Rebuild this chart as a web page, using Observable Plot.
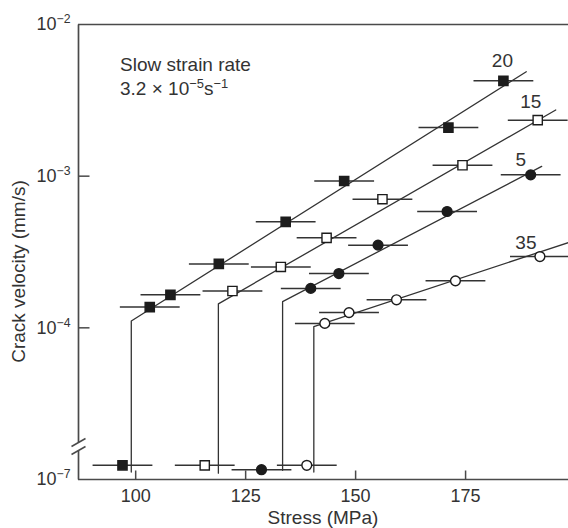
<!DOCTYPE html>
<html><head><meta charset="utf-8">
<script src="https://cdn.jsdelivr.net/npm/d3@7"></script>
<script src="https://cdn.jsdelivr.net/npm/@observablehq/plot@0.6"></script>
<style>
html,body{margin:0;padding:0;background:#fff;}
</style></head><body><div id="chart"></div>
<script>
// ---------------- data ----------------
const seriesNames = ["20", "15", "5", "35"];
// measured points: stress (MPa), crack velocity (mm/s); first point of each is on the 10^-7 level
const stress20 = [97.0, 103.2, 107.9, 118.9, 134.1, 147.4, 171.1, 183.6];
const vel20    = [1.24e-7, 1.37e-4, 1.65e-4, 2.64e-4, 5.0e-4, 9.3e-4, 2.09e-3, 4.25e-3];
const stress15 = [115.7, 122.0, 133.0, 143.4, 156.1, 174.3, 191.4];
const vel15    = [1.24e-7, 1.75e-4, 2.52e-4, 3.92e-4, 7.05e-4, 1.18e-3, 2.34e-3];
const stress5  = [128.6, 139.8, 146.2, 155.1, 170.8, 189.8];
const vel5     = [1.16e-7, 1.82e-4, 2.28e-4, 3.51e-4, 5.85e-4, 1.02e-3];
const stress35 = [138.9, 143.0, 148.5, 159.3, 172.7, 191.9];
const vel35    = [1.24e-7, 1.07e-4, 1.26e-4, 1.53e-4, 2.04e-4, 2.95e-4];
const stressError = 6.8; // ± MPa
// fitted curves: vertical rise at threshold stress, then straight fit
const fitStress20 = [99.0, 99.0, 188.8];   const fitVel20 = [1.12e-7, 1.11e-4, 4.88e-3];
const fitStress15 = [118.8, 118.8, 195.5]; const fitVel15 = [1.10e-7, 1.44e-4, 2.73e-3];
const fitStress5  = [133.4, 133.4, 192.3]; const fitVel5  = [1.15e-7, 1.49e-4, 1.16e-3];
const fitStress35 = [140.5, 140.5, 198.4]; const fitVel35 = [1.12e-7, 1.02e-4, 3.65e-4];
const xTicks = [100, 125, 150, 175];
const xTickLabels = ["100", "125", "150", "175"];
const yTickValues = [1e-2, 1e-3, 1e-4, 1e-7];
const yTickLabels = ["10^-2", "10^-3", "10^-4", "10^-7"];
const xTitle = "Stress (MPa)";
const yTitle = "Crack velocity (mm/s)";
const noteLine1 = "Slow strain rate";

// ---------------- layout / style ----------------
const W = 568, H = 528;
const mL = 78, mR = 0, mT = 24, mB = 49;
const xDomain = [87, 198.4];
const yDomain = [1e-5, 1e-2];          // 10^-7 decade drawn just below the break
const pxPerMPa = (W - mL - mR) / (xDomain[1] - xDomain[0]);
const pxPerDecade = (H - mT - mB) / 3;
const ink = "#333";
const axisInk = "#4a4a4a";
const dark = "#1c1c1c";
const font = "'Liberation Sans', Arial, Helvetica, sans-serif";
const fs = 18, fsTitle = 19;

// broken axis: values below 10^-6 are shifted up two decades
const yPos = v => v < 1e-6 ? v * 100 : v;

const styleOf = {
  "20": {symbol: "square", fill: dark, r: 5.2, labelDx: -1, labelDy: -20},
  "15": {symbol: "square", fill: "white", r: 5.2, labelDx: -7, labelDy: -18},
  "5":  {symbol: "circle", fill: dark, r: 4.9, labelDx: -10, labelDy: -15},
  "35": {symbol: "circle", fill: "white", r: 4.9, labelDx: -14, labelDy: -14}
};
const tables = {
  "20": [stress20, vel20, fitStress20, fitVel20],
  "15": [stress15, vel15, fitStress15, fitVel15],
  "5":  [stress5, vel5, fitStress5, fitVel5],
  "35": [stress35, vel35, fitStress35, fitVel35]
};

const marks = [];
// frame: top and bottom lines, left axis with break
const xMin = xDomain[0];
const dec = px => Math.pow(10, px / pxPerDecade);
const breakHi = yDomain[0] * dec(37), breakLo = yDomain[0] * dec(29);
marks.push(Plot.ruleY([yDomain[1], yDomain[0]], {stroke: axisInk, strokeWidth: 1.7}));
marks.push(Plot.link([{a: breakHi, b: yDomain[1]}, {a: yDomain[0], b: breakLo}],
  {x1: () => xMin, x2: () => xMin, y1: "a", y2: "b", stroke: axisInk, strokeWidth: 1.7}));
const slashDx = 7 / pxPerMPa;
marks.push(Plot.link([breakHi, breakLo],
  {x1: () => xMin - slashDx, x2: () => xMin + slashDx, y1: d => d / dec(4), y2: d => d * dec(4),
   stroke: axisInk, strokeWidth: 1.5}));
// inward ticks
marks.push(Plot.link(yTickValues.filter(v => v > 1e-5 && v < 1e-2),
  {x1: () => xMin, x2: () => xMin + 11 / pxPerMPa, y1: d => d, y2: d => d, stroke: axisInk, strokeWidth: 1.5}));
marks.push(Plot.link(xTicks,
  {x1: d => d, x2: d => d, y1: () => yDomain[0], y2: () => yDomain[0] * dec(9), stroke: axisInk, strokeWidth: 1.5}));

// axes labels
marks.push(Plot.axisX({ticks: xTicks, tickFormat: d => xTickLabels[xTicks.indexOf(d)], tickSize: 0, tickPadding: 10, label: null, fill: ink}));
marks.push(Plot.axisY({ticks: yTickValues.map(yPos), tickFormat: d => yTickLabels[yTickValues.map(yPos).findIndex(v => Math.abs(v - d) / v < 1e-6)],
  tickSize: 0, tickPadding: 8, label: null, fill: ink}));

for (const name of seriesNames) {
  const [s, v, fs_, fv] = tables[name];
  const st = styleOf[name];
  const fit = fs_.map((x, i) => ({x, y: yPos(fv[i])}));
  const pts = s.map((x, i) => ({x, y: yPos(v[i])}));
  marks.push(Plot.line(fit, {x: "x", y: "y", stroke: ink, strokeWidth: 1.3}));
  marks.push(Plot.link(pts, {x1: d => d.x - stressError, x2: d => d.x + stressError, y1: "y", y2: "y", stroke: ink, strokeWidth: 1.5}));
  marks.push(Plot.dot(pts, {x: "x", y: "y", symbol: st.symbol, r: st.r, fill: st.fill, stroke: dark, strokeWidth: 1.4}));
  marks.push(Plot.text([pts[pts.length - 1]], {x: "x", y: "y", text: () => name, dx: st.labelDx, dy: st.labelDy, fill: ink, fontSize: fsTitle}));
}

const svg = Plot.plot({
  width: W, height: H,
  marginLeft: mL, marginRight: mR, marginTop: mT, marginBottom: mB,
  style: {fontFamily: font, fontSize: fs + "px", color: ink, background: "white", overflow: "hidden"},
  x: {domain: xDomain},
  y: {type: "log", domain: yDomain},
  marks
});
document.getElementById("chart").appendChild(svg);

const root = d3.select(svg);
// superscripts on y tick labels
root.selectAll('[aria-label="y-axis tick label"] text').each(function () {
  const t = d3.select(this);
  const [base, exp] = t.text().split("^");
  t.text(null);
  t.append("tspan").text(base);
  t.append("tspan").attr("dy", "-7px").attr("font-size", "0.68em").text(exp.replace("-", "\u2212"));
});
// titles
root.append("text").attr("x", (mL + W - mR) / 2).attr("y", H - 4)
  .attr("text-anchor", "middle").attr("fill", ink).attr("font-size", fsTitle).text(xTitle);
root.append("text").attr("transform", `translate(25,${(mT + H - mB) / 2 + 20}) rotate(-90)`)
  .attr("text-anchor", "middle").attr("fill", ink).attr("font-size", fsTitle).text(yTitle);
// note
const note = root.append("g").attr("fill", ink).attr("font-size", fsTitle).attr("text-anchor", "start");
note.append("text").attr("x", mL + 42).attr("y", mT + 47).text(noteLine1);
const n2 = note.append("text").attr("x", mL + 42).attr("y", mT + 71);
n2.append("tspan").text("3.2 \u00d7 10");
n2.append("tspan").attr("dy", "-7px").attr("font-size", "0.68em").text("\u22125");
n2.append("tspan").attr("dy", "7px").text("s");
n2.append("tspan").attr("dy", "-7px").attr("font-size", "0.68em").text("\u22121");
</script>
</body></html>
